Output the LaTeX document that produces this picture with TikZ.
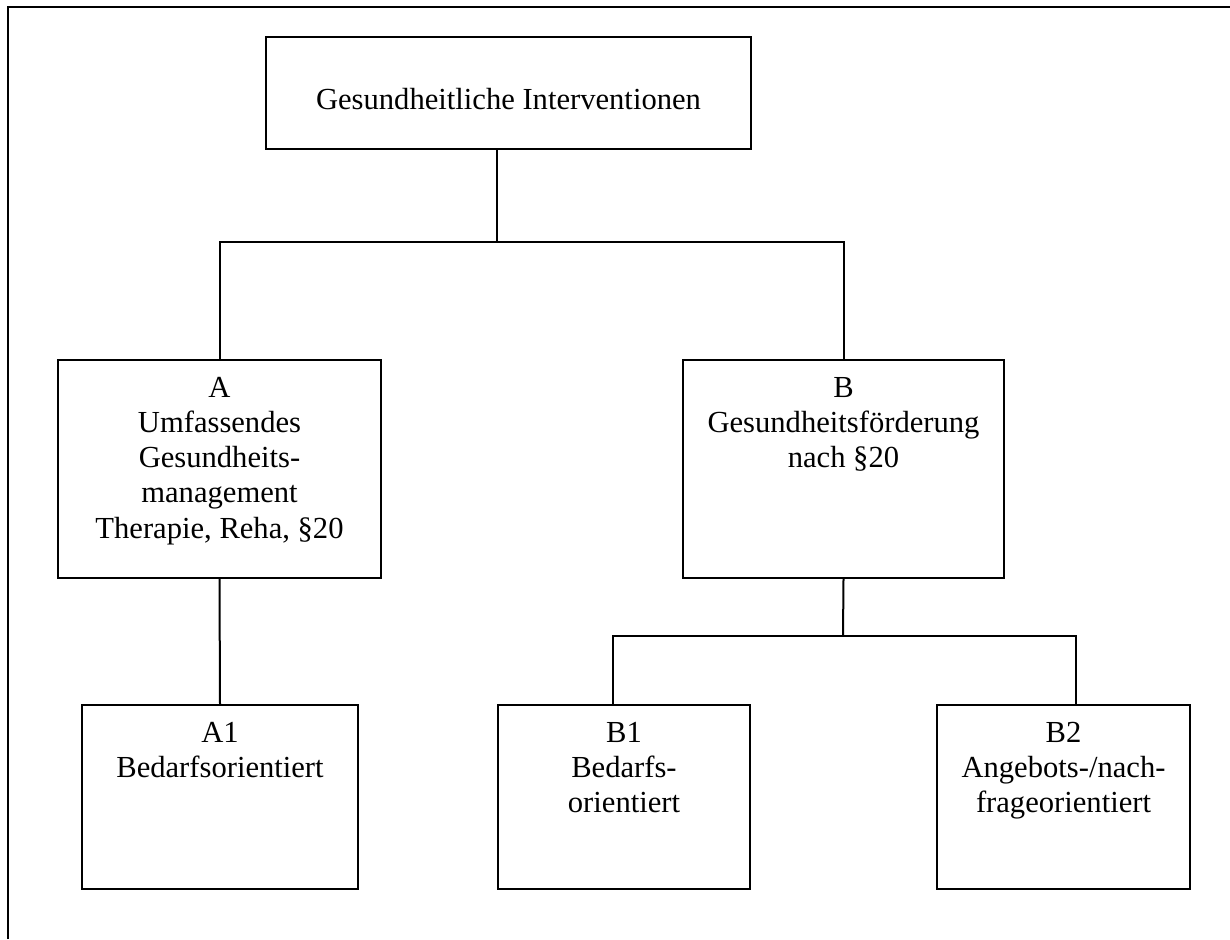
\documentclass[tikz,border=0pt]{standalone}
\usepackage{fontspec}
\setmainfont{Liberation Serif}
\newcommand{\boxtxt}[4]{\parbox[c][#2][t]{#1}{\vspace*{#3}\centering #4\par}}
\tikzset{
  orgbox/.style={draw, line width=2pt, inner sep=0pt, anchor=north west},
  conn/.style={line width=2pt},
}
\begin{document}
\begin{tikzpicture}[x=1pt, y=-1pt, font=\fontsize{30.6}{35.2}\selectfont]
\useasboundingbox (0,0) rectangle (1230,939);
% frame
\draw[line width=2.5pt] (8,939) -- (8,7) -- (1230,7);
% boxes
\node[orgbox] (top) at (265,36) {\boxtxt{485pt}{112pt}{51pt}{Gesundheitliche Interventionen}};
\node[orgbox] (A) at (57,359) {\boxtxt{323pt}{218pt}{17pt}{A\\Umfassendes\\Gesundheits-\\management\\Therapie, Reha, §20}};
\node[orgbox] (B) at (682,359) {\boxtxt{321pt}{218pt}{17pt}{B\\Gesundheitsförderung\\nach §20}};
\node[orgbox] (A1) at (81,704) {\boxtxt{276pt}{184pt}{17pt}{A1\\Bedarfsorientiert}};
\node[orgbox] (B1) at (497,704) {\boxtxt{252pt}{184pt}{17pt}{B1\\Bedarfs-\\orientiert}};
\node[orgbox] (B2) at (936,704) {\boxtxt{253pt}{184pt}{17pt}{B2\\Angebots-/nach-\\frageorientiert}};
% junctions
\coordinate (j1) at (497,242);
\coordinate (j2) at (843,636);
\coordinate (b1s) at (613,636);
\coordinate (b2s) at (1076,636);
% connectors
\draw[conn] (top.south -| j1) -- (j1);
\draw[conn] (A.north) |- (j1) -| (B.north);
\draw[conn] (A.south) -- (A1.north);
\draw[conn] (B.south) -- (j2);
\draw[conn] (B1.north -| b1s) -- (b1s) -- (b2s) -- (B2.north -| b2s);
\end{tikzpicture}
\end{document}
